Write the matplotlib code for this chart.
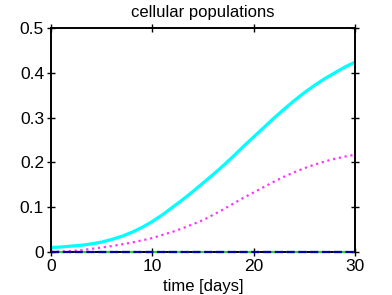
import numpy as np
import matplotlib
matplotlib.use("Agg")
import matplotlib.pyplot as plt

plt.rcParams['font.family'] = ['Liberation Sans', 'DejaVu Sans']

# time points [days]
t = np.arange(0, 31)

# population values
cyan_pop = np.array([0.010, 0.011, 0.013, 0.015, 0.018, 0.022, 0.028, 0.035, 0.044, 0.055,
                     0.068, 0.083, 0.100, 0.117, 0.135, 0.154, 0.173, 0.193, 0.214, 0.236,
                     0.257, 0.278, 0.299, 0.319, 0.338, 0.356, 0.372, 0.387, 0.400, 0.413,
                     0.424])
magenta_pop = np.array([0.000, 0.001, 0.002, 0.004, 0.007, 0.010, 0.013, 0.017, 0.021, 0.026,
                        0.031, 0.038, 0.045, 0.053, 0.062, 0.071, 0.083, 0.095, 0.108, 0.121,
                        0.133, 0.145, 0.157, 0.168, 0.178, 0.187, 0.195, 0.202, 0.208, 0.213,
                        0.217])
green_pop = np.zeros(31)
blue_pop = np.zeros(31)

xticks = [0, 10, 20, 30]
yticks = [0, 0.1, 0.2, 0.3, 0.4, 0.5]
yticklabels = ['0', '0.1', '0.2', '0.3', '0.4', '0.5']

fig = plt.figure(figsize=(3.92, 2.95), dpi=100)
ax = fig.add_axes([0.130, 0.146, 0.776, 0.759])

ax.plot(t, cyan_pop, '-', color='#00ffff', lw=2.3)
ax.plot(t, magenta_pop, ':', color='#ff33ff', lw=1.6)
ax.plot(t, green_pop, '-.', color='#33cc33', lw=1.6, clip_on=False, zorder=5)
ax.plot(t, blue_pop, '--', color='#0000aa', lw=1.6, clip_on=False, zorder=6)

ax.set_xlim(0, 30)
ax.set_ylim(0, 0.5)
ax.set_xticks(xticks)
ax.set_yticks(yticks)
ax.set_yticklabels(yticklabels)
ax.tick_params(direction='inout', top=True, right=True, length=6, width=1, labelsize=12.5, pad=2)
for s in ax.spines.values():
    s.set_linewidth(1.4)

ax.set_xlabel("time [days]", fontsize=12, labelpad=4)
ax.set_title("cellular populations", fontsize=12, pad=8)

fig.savefig("out.png", dpi=100)
